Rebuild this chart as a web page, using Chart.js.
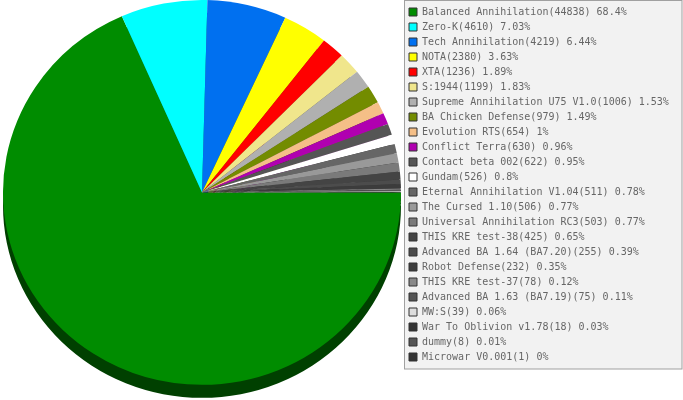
<!DOCTYPE html>
<html>
<head>
<meta charset="utf-8">
<script src="https://cdn.jsdelivr.net/npm/chart.js@4"></script>
<style>
  html, body { margin: 0; padding: 0; background: #fff; overflow: hidden; }
  #grafica { width: 683px; height: 400px; }
</style>
</head>
<body>
<div id="grafica"><canvas id="myChart"></canvas></div>
<script>
const juegos = [
    'Balanced Annihilation', 'Zero-K', 'Tech Annihilation', 'NOTA', 'XTA', 'S:1944',
    'Supreme Annihilation U75 V1.0', 'BA Chicken Defense', 'Evolution RTS', 'Conflict Terra',
    'Contact beta 002', 'Gundam', 'Eternal Annihilation V1.04', 'The Cursed 1.10',
    'Universal Annihilation RC3', 'THIS KRE test-38', 'Advanced BA 1.64 (BA7.20)',
    'Robot Defense', 'THIS KRE test-37', 'Advanced BA 1.63 (BA7.19)', 'MW:S',
    'War To Oblivion v1.78', 'dummy', 'Microwar V0.001'
];
const partidas = [44838, 4610, 4219, 2380, 1236, 1199, 1006, 979, 654, 630, 622, 526,
    511, 506, 503, 425, 255, 232, 78, 75, 39, 18, 8, 1];
const porcentajes = [68.4, 7.03, 6.44, 3.63, 1.89, 1.83, 1.53, 1.49, 1, 0.96, 0.95, 0.8,
    0.78, 0.77, 0.77, 0.65, 0.39, 0.35, 0.12, 0.11, 0.06, 0.03, 0.01, 0];
const colores = ['#008c00', '#00ffff', '#0070f0', '#ffff00', '#ff0000', '#f0e68c',
    '#b0b0b0', '#738c00', '#f5bf87', '#b000b0', '#555555', '#ffffff',
    '#666666', '#999999', '#7a7a7a', '#444444', '#4c4c4c', '#3c3c3c',
    '#888888', '#555555', '#dddddd', '#333333', '#555555', '#333333'];

const inclinacion = 0.967;   // aplastado vertical del pie
const grosor = 13;           // alto del borde 3D en px

function oscurecer(hex, f) {
    const n = parseInt(hex.slice(1), 16);
    const r = Math.round(((n >> 16) & 255) * f);
    const g = Math.round(((n >> 8) & 255) * f);
    const b = Math.round((n & 255) * f);
    return `rgb(${r},${g},${b})`;
}

const pie3d = {
    id: 'pie3d',
    afterInit(chart) {
        // la leyenda ocupa todo el lado derecho
        const leyenda = chart.legend;
        const fitOriginal = leyenda.fit.bind(leyenda);
        leyenda.fit = () => { fitOriginal(); leyenda.width = 279; };
    },
    beforeDraw(chart) {
        const leyenda = chart.legend;
        const cajas = leyenda.legendHitBoxes;
        if (!cajas || !cajas.length) return;
        const ultima = cajas[cajas.length - 1];
        const ctx = chart.ctx;
        ctx.save();
        ctx.fillStyle = '#f2f2f2';
        ctx.strokeStyle = '#a0a0a0';
        ctx.lineWidth = 1;
        const x = Math.round(leyenda.left) + 0.5;
        const y = leyenda.top + 0.5;
        const w = chart.width - x - 1;
        const h = Math.round(ultima.top + ultima.height + 7) - y;
        ctx.fillRect(x, y, w, h);
        ctx.strokeRect(x, y, w, h);
        ctx.restore();
    },
    beforeDatasetsDraw(chart) {
        const ctx = chart.ctx;
        const meta = chart.getDatasetMeta(0);
        if (!meta.data.length) return;
        const { x: cx, y: cy, outerRadius: r } = meta.data[0].getProps(['x', 'y', 'outerRadius'], true);
        ctx.save();
        ctx.translate(cx, chart.chartArea.top + r * inclinacion);
        ctx.scale(1, inclinacion);
        ctx.translate(-cx, -cy);
        const dy = grosor / inclinacion;
        meta.data.forEach((arc, i) => {
            const { x, y, startAngle, endAngle, outerRadius } =
                arc.getProps(['x', 'y', 'startAngle', 'endAngle', 'outerRadius'], true);
            ctx.beginPath();
            ctx.moveTo(x, y + dy);
            ctx.arc(x, y + dy, outerRadius, startAngle, endAngle);
            ctx.closePath();
            ctx.fillStyle = oscurecer(colores[i], 0.46);
            ctx.fill();
        });
    },
    afterDatasetsDraw(chart) {
        if (chart.getDatasetMeta(0).data.length) chart.ctx.restore();
    }
};

const ctx = document.getElementById('myChart');
new Chart(ctx, {
    type: 'pie',
    data: {
        labels: juegos,
        datasets: [{
            data: partidas,
            backgroundColor: colores,
            borderWidth: 0,
            hoverOffset: 0
        }]
    },
    options: {
        responsive: true,
        maintainAspectRatio: false,
        animation: false,
        rotation: 90,
        events: [],
        layout: { padding: { top: 0, bottom: 2, left: 0, right: 0 } },
        plugins: {
            tooltip: { enabled: false },
            legend: {
                position: 'right',
                align: 'start',
                title: { display: true, text: '', padding: { top: 2, bottom: 0 }, font: { size: 10, lineHeight: '0px' } },
                labels: {
                    font: { family: 'DejaVu Sans Mono', size: 10 },
                    color: '#000',
                    boxWidth: 8,
                    boxHeight: 8,
                    padding: 5,
                    generateLabels: () => juegos.map((j, i) => ({
                        text: `${j}(${partidas[i]}) ${porcentajes[i]}%`,
                        fillStyle: colores[i],
                        strokeStyle: '#333333',
                        lineWidth: 1,
                        hidden: false,
                        index: i
                    }))
                }
            }
        }
    },
    plugins: [pie3d]
});
</script>
</body>
</html>
